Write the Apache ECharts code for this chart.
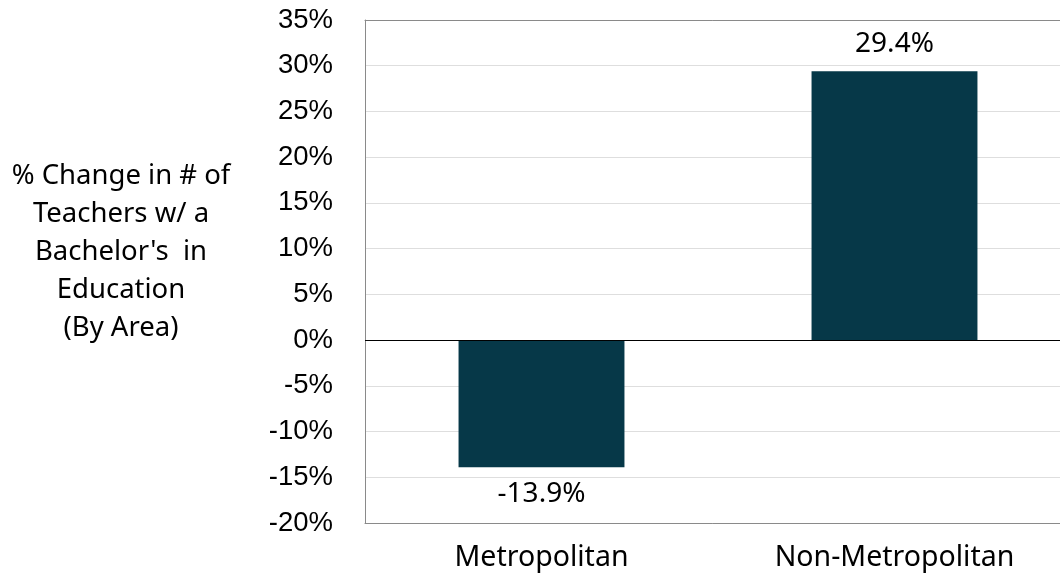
<!DOCTYPE html>
<html><head><meta charset="utf-8">
<script src="https://cdn.jsdelivr.net/npm/echarts@6/dist/echarts.min.js"></script>
<style>html,body{margin:0;padding:0;background:#fff}#c{width:1060px;height:582px}</style>
</head><body><div id="c"></div>
<script>
const categories = ['Metropolitan', 'Non-Metropolitan'];
const values = [-13.9, 29.4];
const axisTitle = "% Change in # of\nTeachers w/ a\nBachelor's  in\nEducation\n(By Area)";
const yMin = -20, yMax = 35, yStep = 5;

const chart = echarts.init(document.getElementById('c'));
chart.setOption({
  animation: false,
  title: {
    text: axisTitle, left: 116, top: 152, textAlign: 'center',
    textStyle: { fontFamily: 'Noto Sans', fontWeight: 'normal', fontSize: 27.5, lineHeight: 38, color: '#000', align: 'center' }
  },
  grid: { left: 365, width: 706, top: 20, bottom: 59, show: false, outerBoundsMode: 'none', containLabel: false },
  xAxis: [{
    type: 'category', data: categories, position: 'bottom',
    axisLine: { show: true, onZero: false, lineStyle: { color: '#8a8a8a', width: 1 } }, axisTick: { show: false },
    axisLabel: { fontFamily: 'Noto Sans', fontSize: 28.5, color: '#000', margin: 20 }
  }, {
    type: 'category', data: categories, position: 'top',
    axisLine: { show: true, onZero: false, lineStyle: { color: '#8a8a8a', width: 1 } },
    axisTick: { show: false }, axisLabel: { show: false }
  }],
  yAxis: {
    type: 'value', min: yMin, max: yMax, interval: yStep,
    axisLine: { show: true, lineStyle: { color: '#8a8a8a', width: 1 } }, axisTick: { show: false },
    splitLine: { lineStyle: { color: '#dedede', width: 1 } },
    axisLabel: { fontFamily: 'Liberation Sans', fontSize: 27.5, color: '#000', margin: 32, formatter: v => v + '%' }
  },
  series: [{
    type: 'bar', data: values, barWidth: '47%',
    itemStyle: { color: '#063848' },
    label: { show: true, position: 'outside', fontFamily: 'Noto Sans', fontSize: 28, color: '#000', distance: 13,
      formatter: p => p.value.toFixed(1) + '%' },
    markLine: {
      silent: true, symbol: 'none', label: { show: false },
      lineStyle: { color: '#000', width: 1, type: 'solid' },
      data: [{ yAxis: 0 }]
    }
  }]
});
</script></body></html>
